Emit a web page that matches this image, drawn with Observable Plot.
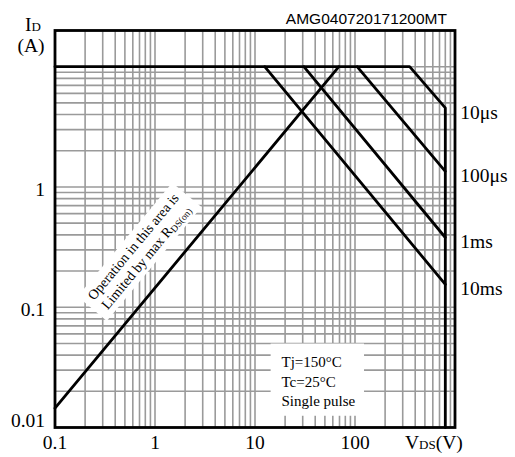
<!DOCTYPE html>
<html>
<head>
<meta charset="utf-8">
<script src="https://cdn.jsdelivr.net/npm/d3@7"></script>
<script src="https://cdn.jsdelivr.net/npm/@observablehq/plot@0.6"></script>
<style>
  body { margin: 0; background: #fff; }
  svg { display: block; }
</style>
</head>
<body>
<div id="chart"></div>
<script>
// ---- data ----
const xTicks = [0.1, 1, 10, 100];
const yTicksMain = [0.1, 1];
const yTicksLow = [0.01];
const idMax = 10;            // A, drain current limit
const vdss = 800;            // V, drain-source voltage limit
const pulseNames = ["10μs", "100μs", "1ms", "10ms"];
const pulseStartV = [352, 105, 30.8, 12.5];     // V where each pulse line leaves ID max
const pulseEndI = [4.55, 1.35, 0.38, 0.155];    // A at VDSS
const rdsV = [0.1, 69];
const rdsI = [0.0145, 10];
const xDomain = [0.1, 1000];
const yDomain = [0.01, 20];
const conditions = ["Tj=150°C", "Tc=25°C", "Single pulse"];

// ---- derived tables ----
const gridX = [];
for (let k = -1; k <= 2; k++) for (let m = 1; m <= 9; m++) gridX.push(m * 10 ** k);
const gridY = [];
for (let k = -2; k <= 0; k++) for (let m = 1; m <= 9; m++) gridY.push(m * 10 ** k);
gridY.push(10, 20);

const series = [];
// envelope: ID max, 10 μs power line, VDSS limit
series.push({s: "env", v: xDomain[0], i: idMax});
series.push({s: "env", v: pulseStartV[0], i: idMax});
series.push({s: "env", v: vdss, i: pulseEndI[0]});
series.push({s: "env", v: vdss, i: yDomain[0]});
for (let k = 1; k < pulseNames.length; k++) {
  series.push({s: pulseNames[k], v: pulseStartV[k], i: idMax});
  series.push({s: pulseNames[k], v: vdss, i: pulseEndI[k]});
}
rdsV.forEach((v, k) => series.push({s: "rds", v, i: rdsI[k]}));

const labels = pulseNames.map((name, k) => ({name, v: vdss, i: pulseEndI[k]}));

const serif = "'Liberation Serif', 'Times New Roman', serif";

// rotated RDS(on) annotation, placed with the scales
function rdsLabel(index, scales) {
  const x = scales.x, y = scales.y;
  const angle = Math.atan2(y(1) - y(10), x(10) - x(1)) * 180 / Math.PI;
  const cx = x(0.708), cy = y(0.286);
  const g = d3.create("svg:g")
    .attr("transform", `translate(${cx},${cy}) rotate(${-angle})`)
    .attr("font-family", serif).attr("font-size", 14).attr("fill", "#000");
  g.append("rect").attr("x", -74).attr("y", -19).attr("width", 148).attr("height", 38).attr("fill", "#fff");
  g.append("text").attr("text-anchor", "middle").attr("x", 0).attr("y", -3.5)
    .text("Operation in this area is");
  const t2 = g.append("text").attr("text-anchor", "middle").attr("x", 0).attr("y", 13);
  t2.append("tspan").text("Limited by max R");
  t2.append("tspan").attr("font-size", 9.5).attr("dy", 2).text("DS(on)");
  return g.node();
}

const plot = Plot.plot({
  width: 515,
  height: 457,
  marginLeft: 54.5,
  marginRight: 60.5,
  marginTop: 30,
  marginBottom: 30,
  x: {type: "log", domain: xDomain},
  y: {type: "log", domain: yDomain},
  style: {fontFamily: serif, fontSize: "19.5px", color: "#000", background: "#fff"},
  marks: [
    Plot.ruleX(gridX, {stroke: "#9a9a9a", strokeWidth: 1.6}),
    Plot.ruleY(gridY, {stroke: "#9a9a9a", strokeWidth: 1.6}),
    Plot.rect([{x1: 14.5, x2: 124.5, y1: 0.0124, y2: 0.0494}], {x1: "x1", x2: "x2", y1: "y1", y2: "y2", fill: "#fff"}),
    rdsLabel,
    Plot.text([conditions.join("\n")], {
      x: () => 18.4, y: () => 0.0245, text: d => d,
      textAnchor: "start", lineAnchor: "middle", lineHeight: 1.3,
      fontSize: 15, fill: "#000"
    }),
    Plot.line(series, {x: "v", y: "i", z: "s", stroke: "#000", strokeWidth: 2.8, strokeLinejoin: "miter"}),
    Plot.frame({stroke: "#000", strokeWidth: 2.8}),
    Plot.text(labels, {x: "v", y: "i", text: "name", dx: 15, dy: 4.5, textAnchor: "start", fontSize: 19.5, fill: "#000"}),
    Plot.axisX({ticks: xTicks, tickSize: 0, tickPadding: 8, tickFormat: d => String(d), fontSize: 19.5, label: null}),
    Plot.axisY({ticks: yTicksMain, tickSize: 0, tickPadding: 10, tickFormat: d => String(d), fontSize: 19.5, dy: 3, label: null}),
    Plot.axisY({ticks: yTicksLow, tickSize: 0, tickPadding: 10, tickFormat: d => String(d), fontSize: 19.5, dy: -7, label: null})
  ]
});

const svg = d3.select(plot);
// part number
svg.append("text").attr("x", 447).attr("y", 24).attr("text-anchor", "end")
  .attr("font-family", "'Liberation Sans', Arial, sans-serif").attr("font-size", 15.5).attr("fill", "#000")
  .text("AMG040720171200MT");
// y axis title
const yt = svg.append("text").attr("x", 25).attr("y", 31).attr("text-anchor", "start")
  .attr("font-family", serif).attr("font-size", 19.5).attr("fill", "#000");
yt.append("tspan").text("I");
yt.append("tspan").attr("font-size", 13).text("D");
svg.append("text").attr("x", 17.5).attr("y", 52).attr("text-anchor", "start")
  .attr("font-family", serif).attr("font-size", 19.5).attr("fill", "#000").text("(A)");
// x axis title
const xt = svg.append("text").attr("x", 405).attr("y", 448.5).attr("text-anchor", "start")
  .attr("font-family", serif).attr("font-size", 19.5).attr("fill", "#000");
xt.append("tspan").text("V");
xt.append("tspan").attr("font-size", 13).text("DS");
xt.append("tspan").text("(V)");

document.getElementById("chart").appendChild(plot);
</script>
</body>
</html>
